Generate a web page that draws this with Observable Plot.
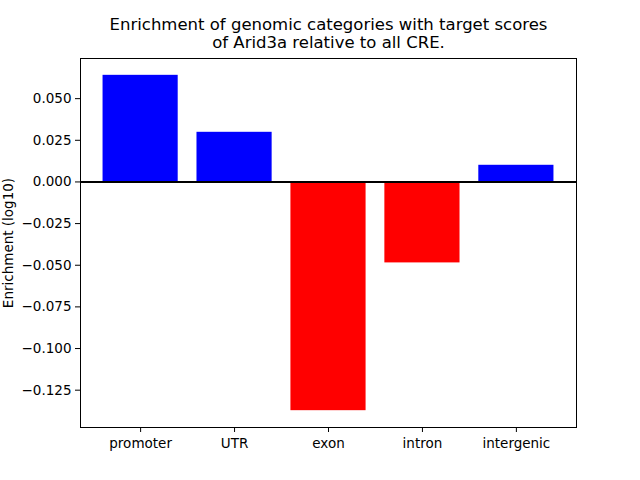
<!DOCTYPE html>
<html><head><meta charset="utf-8">
<script src="https://cdn.jsdelivr.net/npm/d3@7"></script>
<script src="https://cdn.jsdelivr.net/npm/@observablehq/plot@0.6"></script>
<style>body{margin:0;background:#fff} svg{font-family:"DejaVu Sans"}</style>
</head><body><div id="c"></div>
<script>
const categories = ["promoter", "UTR", "exon", "intron", "intergenic"];
const values = [0.0640, 0.0298, -0.1373, -0.0486, 0.0100];
const yTicks = [0.050, 0.025, 0, -0.025, -0.050, -0.075, -0.100, -0.125];
const titleLines = ["Enrichment of genomic categories with target scores", "of Arid3a relative to all CRE."];
const yLabel = "Enrichment (log10)";

const data = categories.map((c, i) => ({category: c, value: values[i], color: values[i] >= 0 ? "blue" : "red"}));

const plot = Plot.plot({
  width: 640, height: 480,
  marginLeft: 80, marginRight: 64, marginTop: 58, marginBottom: 53,
  style: {fontFamily: "DejaVu Sans", fontSize: "13.5px", background: "white", color: "black", overflow: "visible"},
  x: {domain: categories, paddingInner: 0.2, paddingOuter: 0.24, align: 0.5, round: false, label: null},
  y: {domain: [-0.1474, 0.0741], label: null},
  color: {type: "identity"},
  marks: [
    Plot.barY(data, {x: "category", y: "value", fill: "color"}),
    Plot.ruleY([0], {stroke: "black", strokeWidth: 2}),
    Plot.frame({stroke: "black", strokeWidth: 1}),
    Plot.axisX({tickSize: 5, tickPadding: 6, fontSize: 13.5, label: null}),
    Plot.axisY({ticks: yTicks, tickFormat: d3.format(".3f"), tickSize: 5, tickPadding: 4, fontSize: 13.5,
      label: yLabel, labelAnchor: "center", labelArrow: "none", labelOffset: 77}),
    Plot.text([titleLines[0]], {text: d => d, frameAnchor: "top", lineAnchor: "middle", dy: -33.5, fontSize: 16.5, fill: "black"}),
    Plot.text([titleLines[1]], {text: d => d, frameAnchor: "top", lineAnchor: "middle", dy: -15.3, fontSize: 16.5, fill: "black"})
  ]
});
document.getElementById("c").appendChild(plot);
</script>
</body></html>
